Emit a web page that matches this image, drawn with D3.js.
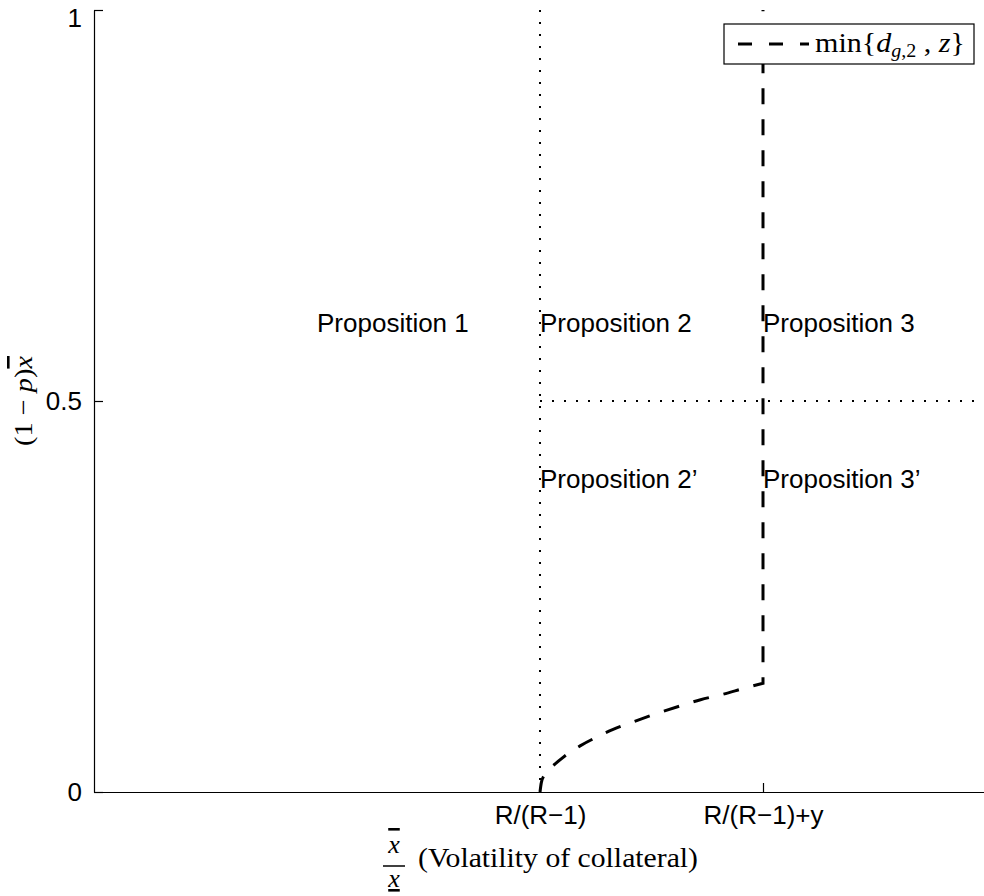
<!DOCTYPE html>
<html>
<head>
<meta charset="utf-8">
<script src="https://cdn.jsdelivr.net/npm/d3@7"></script>
<style>
  body { margin: 0; background: #fff; }
  svg { display: block; }
  .tick text { font-family: "Liberation Sans", Arial, sans-serif; font-size: 26px; fill: #000; }
  .tex { font-family: "Liberation Serif", "Times New Roman", serif; fill: #000; }
</style>
</head>
<body>
<div id="chart"></div>
<script>
// x tick positions and their labels
var xTicks = [1, 1.5];
var xTickLabels = ["R/(R\u22121)", "R/(R\u22121)+y"];
var yTicks = [0, 0.5, 1];
var yTickLabels = ["0", "0.5", "1"];

// min{d_g2, z} (x, y); the curve then jumps up to 1 at x = 1.5
var curveX = [1, 1.003, 1.01, 1.02, 1.034, 1.06, 1.09, 1.13, 1.164, 1.22, 1.27, 1.314, 1.36, 1.41, 1.46, 1.5];
var curveY = [0, 0.012, 0.022, 0.029, 0.036, 0.048, 0.059, 0.071, 0.08, 0.092, 0.102, 0.11, 0.118, 0.125, 0.133, 0.139];
var jumpTop = 1;

// proposition labels
var propText = ["Proposition 1", "Proposition 2", "Proposition 3", "Proposition 2\u2019", "Proposition 3\u2019"];
var propX = [0.5, 1, 1.5, 1, 1.5];
var propY = [0.6, 0.6, 0.6, 0.4, 0.4];

var svgWidth = 984, svgHeight = 896;

var svg = d3.select("#chart")
  .append("svg")
  .attr("width", svgWidth)
  .attr("height", svgHeight);

var x = d3.scaleLinear().domain([0, 2]).range([94, 986]);
var y = d3.scaleLinear().domain([0, 1]).range([792, 10]);

// dotted guide lines
svg.append("line")
  .attr("x1", x(1)).attr("x2", x(1))
  .attr("y1", y(1)).attr("y2", y(0))
  .attr("stroke", "#000").attr("stroke-width", 2)
  .attr("stroke-dasharray", "2,10");

svg.append("line")
  .attr("x1", x(1)).attr("x2", x(1.99))
  .attr("y1", y(0.5)).attr("y2", y(0.5))
  .attr("stroke", "#000").attr("stroke-width", 2)
  .attr("stroke-dasharray", "2,10");

// axes
var xAxis = d3.axisBottom(x)
  .tickValues(xTicks)
  .tickFormat((d, i) => xTickLabels[i])
  .tickSizeInner(-9)
  .tickSizeOuter(0)
  .tickPadding(14);

var yAxis = d3.axisLeft(y)
  .tickValues(yTicks)
  .tickFormat((d, i) => yTickLabels[i])
  .tickSizeInner(-9)
  .tickSizeOuter(0)
  .tickPadding(12);

svg.append("g")
  .attr("transform", `translate(0, ${y(0)})`)
  .call(xAxis);

var gy = svg.append("g")
  .attr("transform", `translate(${x(0)}, 0)`)
  .call(yAxis);

// keep the top label inside the page
gy.selectAll(".tick text").filter(d => d === 1).attr("dy", "0.62em");

svg.selectAll(".domain").attr("stroke", "#000").attr("stroke-width", 1.2);
svg.selectAll(".tick line").attr("stroke", "#000").attr("stroke-width", 1.2);

// dashed curve, smooth part then the vertical jump
var pts = curveX.map((d, i) => [d, curveY[i]]);
var line = d3.line()
  .x(d => x(d[0]))
  .y(d => y(d[1]))
  .curve(d3.curveMonotoneX);
var last = curveX[curveX.length - 1];

svg.append("path")
  .attr("d", line(pts) + "L" + x(last) + "," + y(jumpTop))
  .attr("fill", "none")
  .attr("stroke", "#000")
  .attr("stroke-width", 3)
  .attr("stroke-dasharray", "16,15");

// proposition labels
svg.selectAll("text.prop")
  .data(propText)
  .enter()
  .append("text")
  .classed("prop", true)
  .attr("x", (d, i) => x(propX[i]))
  .attr("y", (d, i) => y(propY[i]))
  .attr("dy", "0.35em")
  .attr("font-family", "Liberation Sans, Arial, sans-serif")
  .attr("font-size", "26px")
  .text(d => d);

// legend
var lg = svg.append("g");
lg.append("rect")
  .attr("x", 724).attr("y", 24)
  .attr("width", 250).attr("height", 40)
  .attr("fill", "#fff")
  .attr("stroke", "#000")
  .attr("stroke-width", 1.2);
lg.append("line")
  .attr("x1", 738).attr("x2", 809)
  .attr("y1", 44).attr("y2", 44)
  .attr("stroke", "#000")
  .attr("stroke-width", 3)
  .attr("stroke-dasharray", "14,17");
var lt = lg.append("text")
  .attr("class", "tex")
  .attr("x", 815).attr("y", 52)
  .attr("font-size", "27px")
  .attr("textLength", 150)
  .attr("lengthAdjust", "spacingAndGlyphs");
lt.append("tspan").text("min{");
lt.append("tspan").attr("font-style", "italic").text("d");
lt.append("tspan").attr("font-style", "italic").attr("font-size", "18px").attr("dy", 5).text("g");
lt.append("tspan").attr("font-size", "18px").text(",2");
lt.append("tspan").attr("dy", -5).text(" , ");
lt.append("tspan").attr("font-style", "italic").text("z");
lt.append("tspan").text("}");

// y label
var yl = svg.append("text")
  .attr("class", "tex")
  .attr("transform", `translate(32, ${y(0.5)}) rotate(-90)`)
  .attr("text-anchor", "middle")
  .attr("font-size", "26px")
  .attr("textLength", 90)
  .attr("lengthAdjust", "spacingAndGlyphs");
yl.append("tspan").text("(1 \u2212 ");
yl.append("tspan").attr("font-style", "italic").text("p");
yl.append("tspan").text(")");
yl.append("tspan").attr("font-style", "italic")
  .style("text-decoration", "overline").text("x");

// x label: fraction then words
var fx = 394;
svg.append("text")
  .attr("class", "tex")
  .attr("x", fx).attr("y", 853)
  .attr("text-anchor", "middle")
  .attr("font-size", "26px")
  .attr("font-style", "italic")
  .style("text-decoration", "overline")
  .text("x");
svg.append("line")
  .attr("x1", fx - 11).attr("x2", fx + 11)
  .attr("y1", 866).attr("y2", 866)
  .attr("stroke", "#000").attr("stroke-width", 1.5);
svg.append("text")
  .attr("class", "tex")
  .attr("x", fx).attr("y", 887)
  .attr("text-anchor", "middle")
  .attr("font-size", "26px")
  .attr("font-style", "italic")
  .style("text-decoration", "underline")
  .text("x");
svg.append("text")
  .attr("class", "tex")
  .attr("x", 418).attr("y", 867)
  .attr("font-size", "27px")
  .attr("textLength", 280)
  .attr("lengthAdjust", "spacingAndGlyphs")
  .text("(Volatility of collateral)");
</script>
</body>
</html>
